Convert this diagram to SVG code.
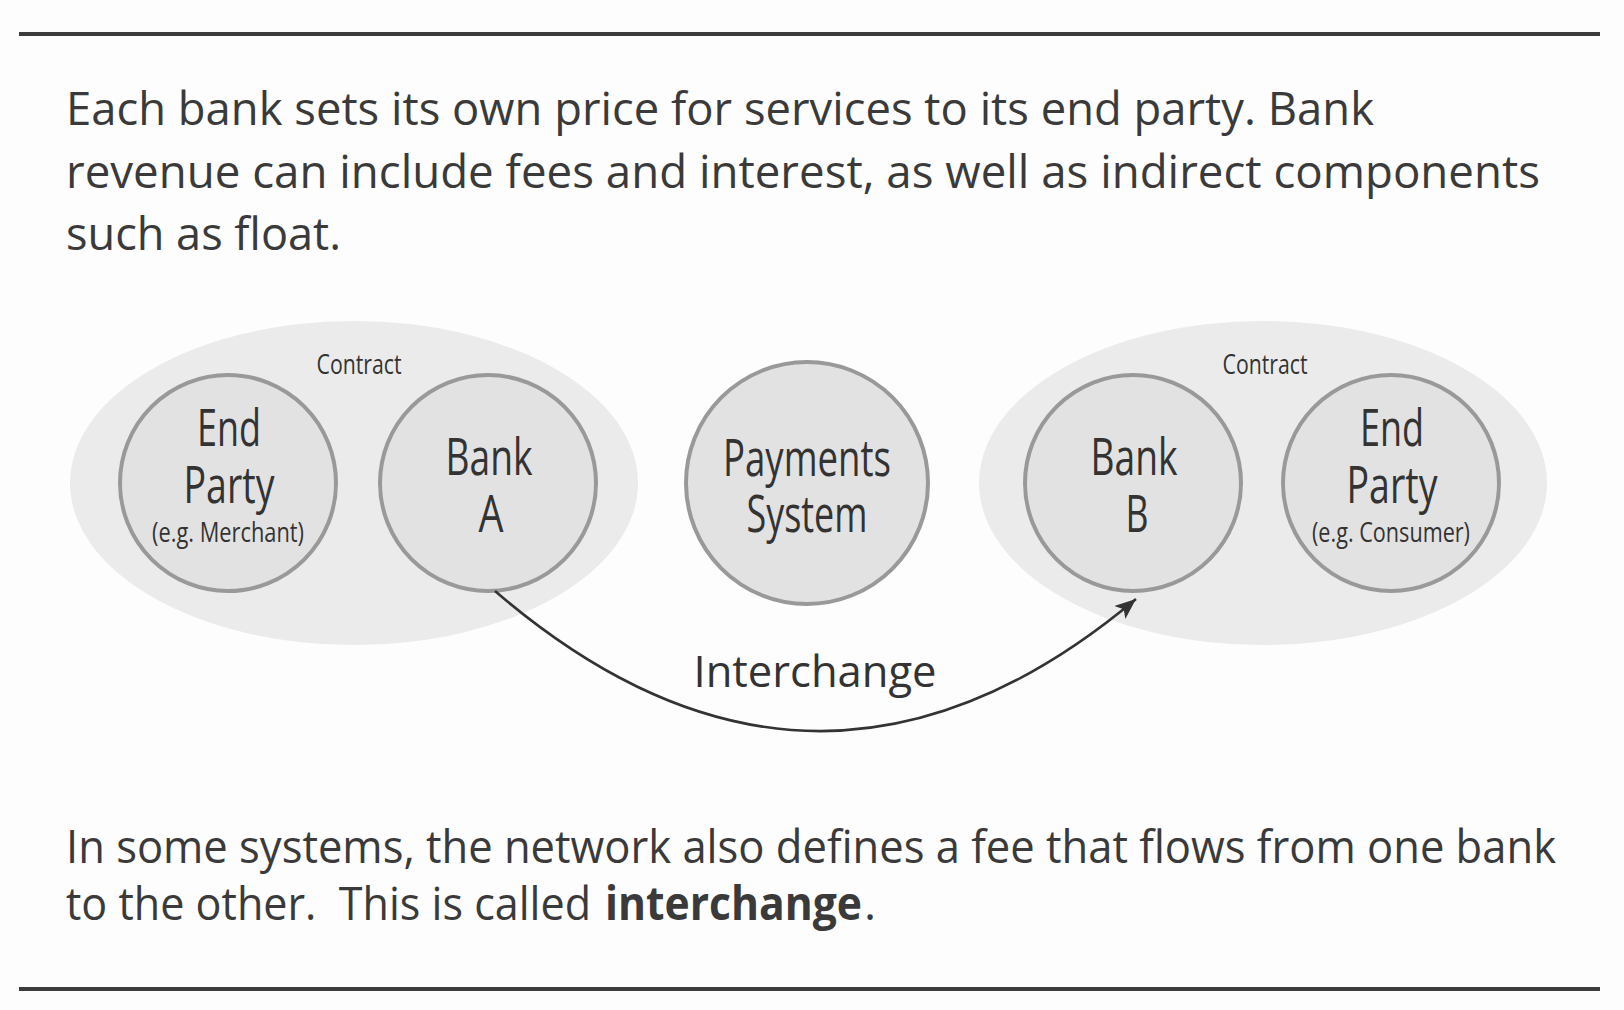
<svg xmlns="http://www.w3.org/2000/svg" width="1624" height="1010" viewBox="0 0 1624 1010">
<style>
.body{font-family:"Open Sans","Noto Sans",sans-serif;font-size:46px;fill:#3a3a3a}
.lbl{font-family:"Open Sans","Noto Sans",sans-serif;fill:#333;text-anchor:middle}
.big{font-size:52px}
.small{font-size:27px}
.grp{fill:#ebebeb}
.node{fill:#e2e2e2;stroke:#999;stroke-width:4}
.rule{fill:#3c3c3c}
.conn{fill:none;stroke:#333;stroke-width:2.6}
</style>
<defs>
<marker id="arr" markerUnits="userSpaceOnUse" markerWidth="26" markerHeight="20" refX="21" refY="8.5" orient="auto">
<path d="M0,0 L21,8.5 L0,17 L5,8.5 Z" fill="#333"/>
</marker>
</defs>
<rect width="1624" height="1010" fill="#fdfdfd"/>
<rect class="rule" x="19" y="32" width="1581" height="4"/>
<rect class="rule" x="19" y="987" width="1581" height="4"/>

<g id="intro">
<text class="body" x="66" y="125" textLength="1308" lengthAdjust="spacingAndGlyphs">Each bank sets its own price for services to its end party. Bank</text>
<text class="body" x="66" y="188" textLength="1474" lengthAdjust="spacingAndGlyphs">revenue can include fees and interest, as well as indirect components</text>
<text class="body" x="66" y="250" textLength="275" lengthAdjust="spacingAndGlyphs">such as float.</text>
</g>

<g id="contract-left">
<ellipse class="grp" cx="354" cy="483" rx="284" ry="162"/>
<text class="lbl small" x="359" y="374" textLength="85" lengthAdjust="spacingAndGlyphs">Contract</text>
</g>
<g id="contract-right">
<ellipse class="grp" cx="1263" cy="483" rx="284" ry="162"/>
<text class="lbl small" x="1265" y="374" textLength="85" lengthAdjust="spacingAndGlyphs">Contract</text>
</g>

<g id="end-party-merchant">
<circle class="node" cx="228" cy="483" r="108"/>
<text class="lbl big" x="229" y="446" textLength="64" lengthAdjust="spacingAndGlyphs">End</text>
<text class="lbl big" x="229" y="503" textLength="91" lengthAdjust="spacingAndGlyphs">Party</text>
<text class="lbl small" x="228" y="542" textLength="152" lengthAdjust="spacingAndGlyphs">(e.g. Merchant)</text>
</g>
<g id="bank-a">
<circle class="node" cx="488" cy="483" r="108"/>
<text class="lbl big" x="489" y="475" textLength="87" lengthAdjust="spacingAndGlyphs">Bank</text>
<text class="lbl big" x="491" y="532" textLength="25" lengthAdjust="spacingAndGlyphs">A</text>
</g>
<g id="payments-system">
<circle class="node" cx="807" cy="483" r="121"/>
<text class="lbl big" x="807" y="476" textLength="168" lengthAdjust="spacingAndGlyphs">Payments</text>
<text class="lbl big" x="807" y="532" textLength="121" lengthAdjust="spacingAndGlyphs">System</text>
</g>
<g id="bank-b">
<circle class="node" cx="1133" cy="483" r="108"/>
<text class="lbl big" x="1134" y="475" textLength="87" lengthAdjust="spacingAndGlyphs">Bank</text>
<text class="lbl big" x="1137" y="532" textLength="23" lengthAdjust="spacingAndGlyphs">B</text>
</g>
<g id="end-party-consumer">
<circle class="node" cx="1391" cy="483" r="108"/>
<text class="lbl big" x="1392" y="446" textLength="64" lengthAdjust="spacingAndGlyphs">End</text>
<text class="lbl big" x="1392" y="503" textLength="91" lengthAdjust="spacingAndGlyphs">Party</text>
<text class="lbl small" x="1391" y="542" textLength="158" lengthAdjust="spacingAndGlyphs">(e.g. Consumer)</text>
</g>

<g id="connectors">
<path class="conn" d="M495,591 Q816,867 1136,599" marker-end="url(#arr)"/>
<text class="lbl" style="font-size:44px" x="815" y="687" textLength="243" lengthAdjust="spacingAndGlyphs">Interchange</text>
</g>

<g id="outro">
<text class="body" x="66" y="863" textLength="1490" lengthAdjust="spacingAndGlyphs">In some systems, the network also defines a fee that flows from one bank</text>
<text class="body" x="66" y="920" textLength="525" lengthAdjust="spacingAndGlyphs" style="white-space:pre">to the other.  This is called</text>
<text class="body" x="605" y="920" textLength="257" lengthAdjust="spacingAndGlyphs" font-weight="bold">interchange</text>
<text class="body" x="864" y="920">.</text>
</g>
</svg>
